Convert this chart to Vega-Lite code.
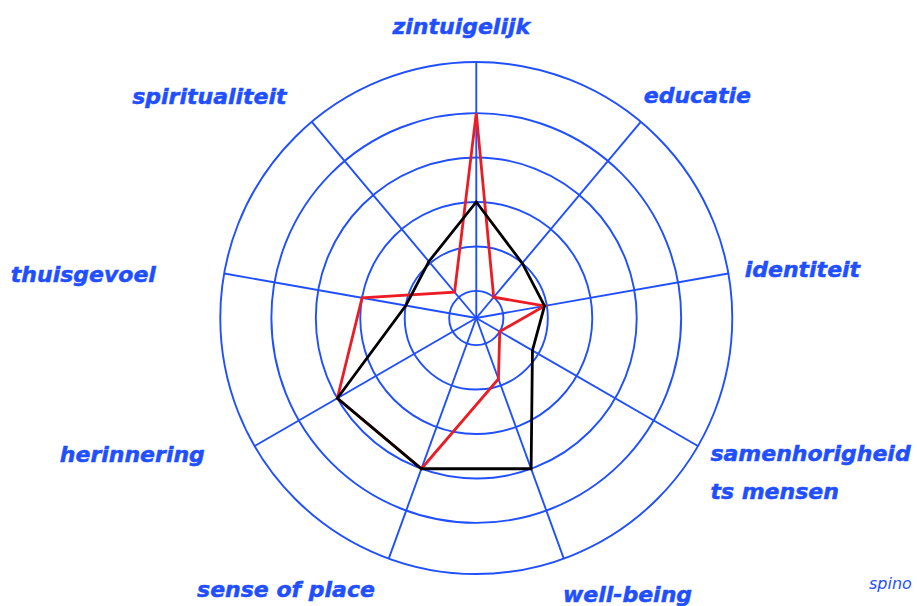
{
  "$schema": "https://vega.github.io/schema/vega-lite/v6.json",
  "width": 917,
  "height": 606,
  "autosize": "none",
  "padding": 0,
  "background": "white",
  "config": {
    "view": {"stroke": null},
    "text": {"font": "DejaVu Sans", "fontSize": 22, "fontWeight": "bold", "fontStyle": "italic", "color": "#1f4fff", "stroke": "#1f4fff", "strokeWidth": 0.5, "baseline": "alphabetic", "lineHeight": 38, "lineBreak": "\n"}
  },
  "title": {
    "text": "spino",
    "orient": "bottom",
    "anchor": "start",
    "frame": "group",
    "offset": -17,
    "dx": 869,
    "baseline": "alphabetic",
    "font": "DejaVu Sans",
    "fontSize": 16,
    "fontWeight": "normal",
    "fontStyle": "italic",
    "color": "#1f4fff"
  },
  "datasets": {
    "aspecten": [
      {"i": 0, "aspect": "zintuigelijk", "label": "zintuigelijk"},
      {"i": 1, "aspect": "educatie", "label": "educatie"},
      {"i": 2, "aspect": "identiteit", "label": "identiteit"},
      {"i": 3, "aspect": "samenhorigheid ts mensen", "label": "samenhorigheid\nts mensen"},
      {"i": 4, "aspect": "well-being", "label": "well-being"},
      {"i": 5, "aspect": "sense of place", "label": "sense of place"},
      {"i": 6, "aspect": "herinnering", "label": "herinnering"},
      {"i": 7, "aspect": "thuisgevoel", "label": "thuisgevoel"},
      {"i": 8, "aspect": "spiritualiteit", "label": "spiritualiteit"}
    ],
    "scores": [
      {"reeks": "rood", "i": 0, "aspect": "zintuigelijk", "waarde": 5},
      {"reeks": "rood", "i": 1, "aspect": "educatie", "waarde": 1},
      {"reeks": "rood", "i": 2, "aspect": "identiteit", "waarde": 1.95},
      {"reeks": "rood", "i": 3, "aspect": "samenhorigheid ts mensen", "waarde": 1},
      {"reeks": "rood", "i": 4, "aspect": "well-being", "waarde": 1.85},
      {"reeks": "rood", "i": 5, "aspect": "sense of place", "waarde": 4},
      {"reeks": "rood", "i": 6, "aspect": "herinnering", "waarde": 4},
      {"reeks": "rood", "i": 7, "aspect": "thuisgevoel", "waarde": 3},
      {"reeks": "rood", "i": 8, "aspect": "spiritualiteit", "waarde": 1.15},
      {"reeks": "zwart", "i": 0, "aspect": "zintuigelijk", "waarde": 3},
      {"reeks": "zwart", "i": 1, "aspect": "educatie", "waarde": 2},
      {"reeks": "zwart", "i": 2, "aspect": "identiteit", "waarde": 1.95},
      {"reeks": "zwart", "i": 3, "aspect": "samenhorigheid ts mensen", "waarde": 1.85},
      {"reeks": "zwart", "i": 4, "aspect": "well-being", "waarde": 4},
      {"reeks": "zwart", "i": 5, "aspect": "sense of place", "waarde": 4},
      {"reeks": "zwart", "i": 6, "aspect": "herinnering", "waarde": 4},
      {"reeks": "zwart", "i": 7, "aspect": "thuisgevoel", "waarde": 2},
      {"reeks": "zwart", "i": 8, "aspect": "spiritualiteit", "waarde": 2.05}
    ],
    "ringen": [
      {"niveau": 1}, {"niveau": 2}, {"niveau": 3}, {"niveau": 4}, {"niveau": 5}, {"niveau": 6.15}
    ]
  },
  "layer": [
    {
      "data": {"name": "ringen"},
      "transform": [
        {"calculate": "datum.niveau - 0.39", "as": "rr"},
        {"calculate": "0", "as": "midden"}
      ],
      "mark": {"type": "point", "shape": "circle", "filled": false, "stroke": "#1f4fff", "color": "#1f4fff", "strokeWidth": 1.9, "opacity": 1},
      "encoding": {
        "x": {"field": "midden", "type": "quantitative", "scale": {"domain": [-10.72, 9.92], "nice": false, "zero": false}, "axis": null},
        "y": {"field": "midden", "type": "quantitative", "scale": {"domain": [-6.48, 7.155], "nice": false, "zero": false}, "axis": null},
        "size": {"field": "rr", "type": "quantitative", "scale": {"type": "pow", "exponent": 2, "domain": [0, 5.76], "range": [0, 262144]}, "legend": null}
      }
    },
    {
      "data": {"name": "aspecten"},
      "transform": [
        {"calculate": "(90 - 40 * datum.i) * PI / 180", "as": "hoek"},
        {"calculate": "5.76 * cos(datum.hoek)", "as": "xe"},
        {"calculate": "5.76 * sin(datum.hoek)", "as": "ye"},
        {"calculate": "0", "as": "midden"}
      ],
      "mark": {"type": "rule", "color": "#1f4fff", "strokeWidth": 1.9},
      "encoding": {
        "x": {"field": "midden", "type": "quantitative", "scale": {"domain": [-10.72, 9.92], "nice": false, "zero": false}, "axis": null},
        "y": {"field": "midden", "type": "quantitative", "scale": {"domain": [-6.48, 7.155], "nice": false, "zero": false}, "axis": null},
        "x2": {"field": "xe"},
        "y2": {"field": "ye"}
      }
    },
    {
      "data": {"name": "scores"},
      "transform": [
        {"filter": "datum.reeks === 'rood'"},
        {"calculate": "(90 - 40 * datum.i) * PI / 180", "as": "hoek"},
        {"calculate": "(datum.waarde - 0.39) * cos(datum.hoek)", "as": "px"},
        {"calculate": "(datum.waarde - 0.39) * sin(datum.hoek)", "as": "py"}
      ],
      "mark": {"type": "line", "interpolate": "linear-closed", "color": "#ec1c24", "strokeWidth": 2.8},
      "encoding": {
        "x": {"field": "px", "type": "quantitative", "scale": {"domain": [-10.72, 9.92], "nice": false, "zero": false}, "axis": null},
        "y": {"field": "py", "type": "quantitative", "scale": {"domain": [-6.48, 7.155], "nice": false, "zero": false}, "axis": null},
        "order": {"field": "i", "type": "quantitative"}
      }
    },
    {
      "data": {"name": "scores"},
      "transform": [
        {"filter": "datum.reeks === 'zwart'"},
        {"calculate": "(90 - 40 * datum.i) * PI / 180", "as": "hoek"},
        {"calculate": "(datum.waarde - 0.39) * cos(datum.hoek)", "as": "px"},
        {"calculate": "(datum.waarde - 0.39) * sin(datum.hoek)", "as": "py"}
      ],
      "mark": {"type": "line", "interpolate": "linear-closed", "color": "#000000", "strokeWidth": 2.8},
      "encoding": {
        "x": {"field": "px", "type": "quantitative", "scale": {"domain": [-10.72, 9.92], "nice": false, "zero": false}, "axis": null},
        "y": {"field": "py", "type": "quantitative", "scale": {"domain": [-6.48, 7.155], "nice": false, "zero": false}, "axis": null},
        "order": {"field": "i", "type": "quantitative"}
      }
    },
    {
      "data": {"name": "aspecten"},
      "transform": [
        {"calculate": "(90 - 40 * datum.i) * PI / 180", "as": "hoek"},
        {"calculate": "5.76 * cos(datum.hoek)", "as": "xe"},
        {"calculate": "5.76 * sin(datum.hoek)", "as": "ye"}
      ],
      "encoding": {
        "x": {"field": "xe", "type": "quantitative", "scale": {"domain": [-10.72, 9.92], "nice": false, "zero": false}, "axis": null},
        "y": {"field": "ye", "type": "quantitative", "scale": {"domain": [-6.48, 7.155], "nice": false, "zero": false}, "axis": null},
        "text": {"field": "label", "type": "nominal"}
      },
      "layer": [
        {"transform": [{"filter": "datum.i === 0"}], "mark": {"type": "text", "align": "center", "dx": -15, "dy": -28.4}},
        {"transform": [{"filter": "datum.i === 1"}], "mark": {"type": "text", "align": "left", "dx": 3, "dy": -19.3}},
        {"transform": [{"filter": "datum.i === 2"}], "mark": {"type": "text", "align": "left", "dx": 16.4, "dy": 3.5}},
        {"transform": [{"filter": "datum.i === 3"}], "mark": {"type": "text", "align": "left", "dx": 12.5, "dy": 15.3}},
        {"transform": [{"filter": "datum.i === 4"}], "mark": {"type": "text", "align": "left", "dx": -0.8, "dy": 43.4}},
        {"transform": [{"filter": "datum.i === 5"}], "mark": {"type": "text", "align": "right", "dx": -13.9, "dy": 38.4}},
        {"transform": [{"filter": "datum.i === 6"}], "mark": {"type": "text", "align": "right", "dx": -49.8, "dy": 16}},
        {"transform": [{"filter": "datum.i === 7"}], "mark": {"type": "text", "align": "right", "dx": -68.4, "dy": 8.5}},
        {"transform": [{"filter": "datum.i === 8"}], "mark": {"type": "text", "align": "right", "dx": -25.2, "dy": -18.3}}
      ]
    }
  ]
}
